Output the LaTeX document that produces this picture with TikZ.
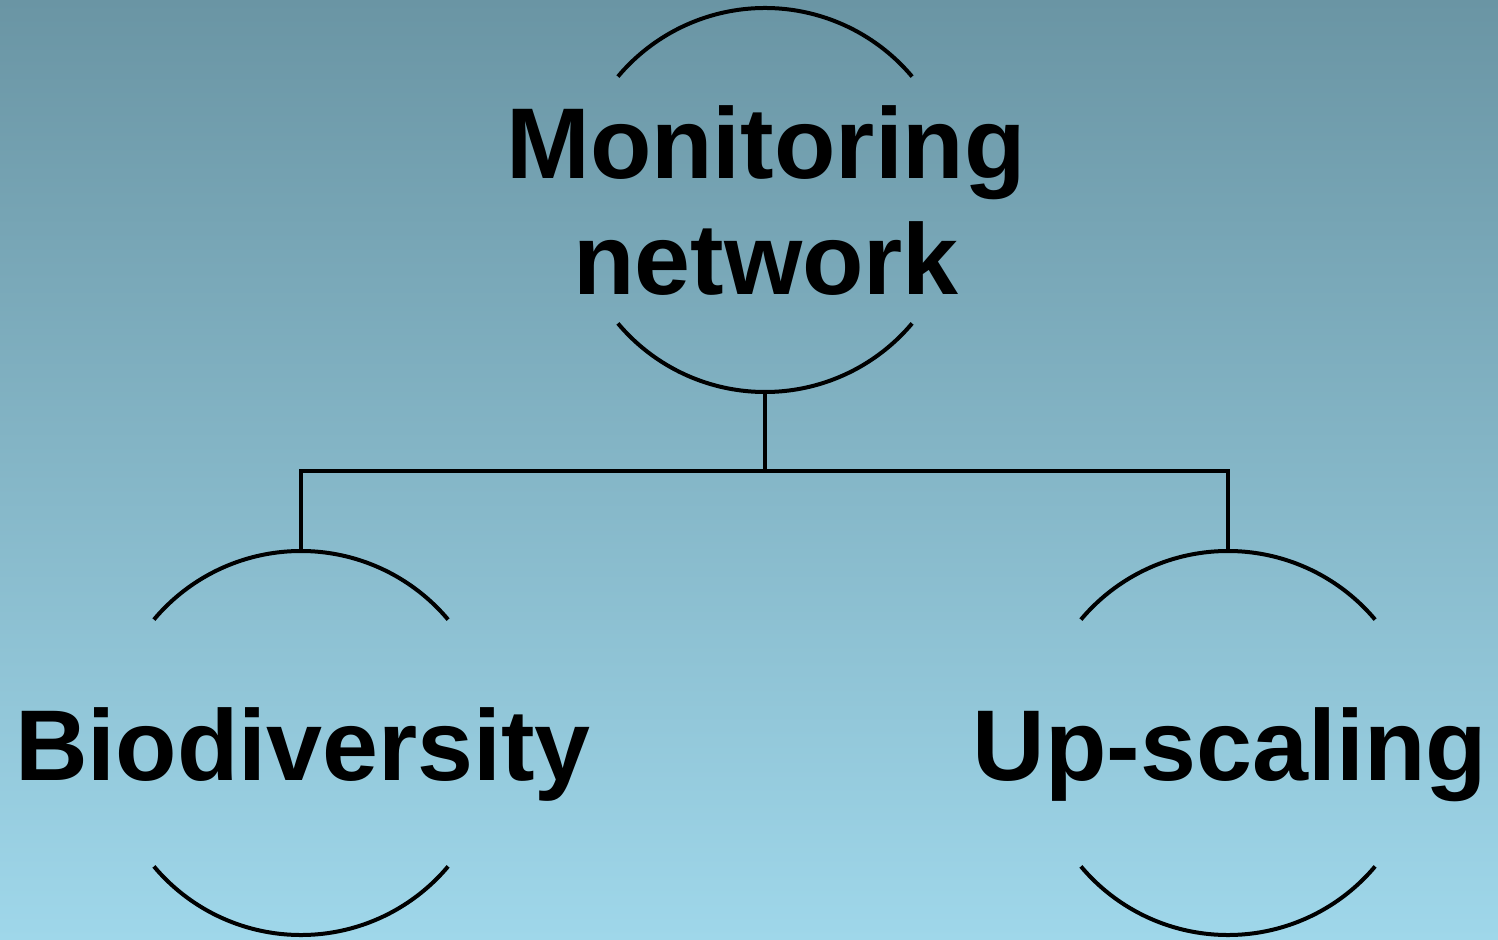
\documentclass[tikz,border=0pt]{standalone}
\usepackage{fontspec}
\setmainfont{Liberation Sans}
\definecolor{bgtop}{RGB}{106,149,164}
\definecolor{bgbot}{RGB}{159,215,234}
\begin{document}
\begin{tikzpicture}[x=0.5pt,y=0.5pt,
  ring/.style={circle,draw=none,minimum size=192pt,inner sep=0pt,outer sep=0pt},
  label/.style={font=\fontsize{50.3pt}{58pt}\selectfont\bfseries,inner sep=0pt,outer sep=0pt},
  arcline/.style={line width=2pt,black},
  conn/.style={line width=2pt,black}]
\shade[top color=bgtop,bottom color=bgbot] (0,0) rectangle (1498,-940);
\useasboundingbox (0,0) rectangle (1498,-940);
\node[ring] (mon) at (765,-200) {};
\node[ring] (bio) at (301,-743) {};
\node[ring] (up) at (1228,-743) {};
\node[label,align=center] (montext) at (766,-201) {Monitoring\\network};
\node[label,anchor=base] (biotext) at (303,-780) {Biodiversity};
\node[label,anchor=base] (uptext) at (1230,-780) {Up-scaling};
\foreach \n in {mon,bio,up}{
  \draw[arcline] (\n.140) arc[start angle=140,end angle=40,radius=96pt];
  \draw[arcline] (\n.-140) arc[start angle=-140,end angle=-40,radius=96pt];
}
\coordinate (bus) at (765,-471);
\draw[conn] (mon.south) -- (bus);
\draw[conn] (bio.north) |- (bus) -| (up.north);
\end{tikzpicture}
\end{document}
